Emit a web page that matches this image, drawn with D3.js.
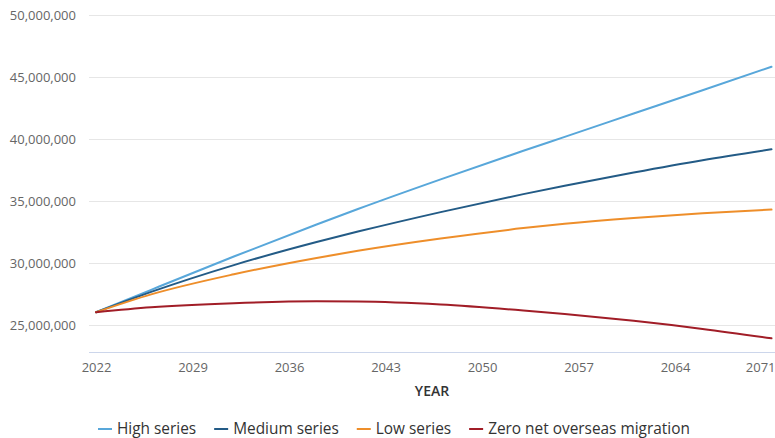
<!DOCTYPE html>
<html>
<head>
<meta charset="utf-8">
<script src="https://cdn.jsdelivr.net/npm/d3@7"></script>
<style>
  html, body { margin: 0; padding: 0; background: #fff; }
  svg { display: block; font-family: "Open Sans", sans-serif; }
</style>
</head>
<body>
<svg id="chart" width="775" height="438"></svg>
<script>
// Projected population, Australia, 2022–2071 (millions of persons)
const years = [2022, 2026, 2032, 2038, 2041, 2047, 2053, 2056, 2061, 2066, 2071];
const highSeries    = [26.05, 27.86, 30.54, 33.12, 34.37, 36.76, 39.06, 40.18, 42.06, 43.94, 45.83];
const mediumSeries  = [26.05, 27.69, 29.85, 31.71, 32.55, 34.12, 35.57, 36.25, 37.31, 38.30, 39.18];
const lowSeries     = [26.05, 27.49, 29.11, 30.43, 31.00, 31.99, 32.83, 33.18, 33.65, 34.03, 34.32];
const zeroNomSeries = [26.05, 26.45, 26.78, 26.93, 26.915, 26.675, 26.195, 25.91, 25.36, 24.71, 23.95];

const seriesNames = ["High series", "Medium series", "Low series", "Zero net overseas migration"];
const seriesColors = ["#58a7da", "#235b86", "#ee8e2a", "#a11d27"];
const yTicks = [25000000, 30000000, 35000000, 40000000, 45000000, 50000000];
const xTicks = [2022, 2029, 2036, 2043, 2050, 2057, 2064, 2071];
const yMin = 22825000, yMax = 50000000;

const seriesValues = [highSeries, mediumSeries, lowSeries, zeroNomSeries];
const series = seriesNames.map((name, i) => ({
  name,
  color: seriesColors[i],
  points: years.map((yr, j) => ({ year: yr, value: seriesValues[i][j] * 1e6 }))
}));

const svg = d3.select("#chart");
const plotLeft = 89, plotRight = 775, plotTop = 15, plotBottom = 352.3;

const x = d3.scaleLinear().domain([2022, 2071]).range([96, 771.5]);
const y = d3.scaleLinear().domain([yMin, yMax]).range([plotBottom, plotTop]);

// horizontal gridlines
svg.append("g")
  .selectAll("line")
  .data(yTicks)
  .join("line")
  .attr("x1", plotLeft).attr("x2", plotRight)
  .attr("y1", d => Math.round(y(d)) + 0.5).attr("y2", d => Math.round(y(d)) + 0.5)
  .attr("stroke", "#e6e6e6").attr("stroke-width", 1);

// y axis labels
const fmt = d3.format(",");
svg.append("g")
  .selectAll("text")
  .data(yTicks)
  .join("text")
  .attr("x", 76)
  .attr("y", d => y(d))
  .attr("dy", "0.35em")
  .attr("text-anchor", "end")
  .attr("font-size", 13)
  .attr("fill", "#666666")
  .text(d => fmt(d));

// x axis
const xAxis = d3.axisBottom(x)
  .tickValues(xTicks)
  .tickFormat(d3.format("d"))
  .tickSize(0)
  .tickPadding(10);
const xg = svg.append("g")
  .attr("transform", `translate(0,${plotBottom})`)
  .call(xAxis);
xg.select(".domain").remove();
xg.selectAll("text")
  .attr("font-family", "Open Sans, sans-serif")
  .attr("font-size", 13)
  .attr("fill", "#666666");
// keep the last year label inside the drawing area
xg.selectAll(".tick")
  .filter(d => d === xTicks[xTicks.length - 1])
  .select("text")
  .attr("text-anchor", "end")
  .attr("x", 775 - x(xTicks[xTicks.length - 1]));

svg.append("line")
  .attr("x1", plotLeft).attr("x2", plotRight)
  .attr("y1", Math.round(plotBottom) + 0.5).attr("y2", Math.round(plotBottom) + 0.5)
  .attr("stroke", "#ccd6eb").attr("stroke-width", 1);

svg.append("text")
  .attr("x", (plotLeft + plotRight) / 2)
  .attr("y", 396)
  .attr("text-anchor", "middle")
  .attr("font-size", 14)
  .attr("font-weight", 600)
  .attr("fill", "#333333")
  .text("YEAR");

// series lines
const line = d3.line()
  .x(d => x(d.year))
  .y(d => y(d.value))
  .curve(d3.curveMonotoneX);

svg.append("g")
  .selectAll("path")
  .data(series)
  .join("path")
  .attr("fill", "none")
  .attr("stroke", d => d.color)
  .attr("stroke-width", 2)
  .attr("stroke-linejoin", "round")
  .attr("stroke-linecap", "round")
  .attr("d", d => line(d.points));

// legend
const legend = svg.append("g").attr("transform", "translate(98,429)");
let offset = 0;
series.forEach(s => {
  const item = legend.append("g").attr("transform", `translate(${offset},0)`);
  item.append("line")
    .attr("x1", 0).attr("x2", 14)
    .attr("y1", 0).attr("y2", 0)
    .attr("stroke", s.color).attr("stroke-width", 2);
  const t = item.append("text")
    .attr("x", 19)
    .attr("y", 0)
    .attr("dy", "0.35em")
    .attr("font-size", 15.4)
    .attr("fill", "#333333")
    .text(s.name);
  offset += 19 + t.node().getComputedTextLength() + 18;
});
</script>
</body>
</html>
